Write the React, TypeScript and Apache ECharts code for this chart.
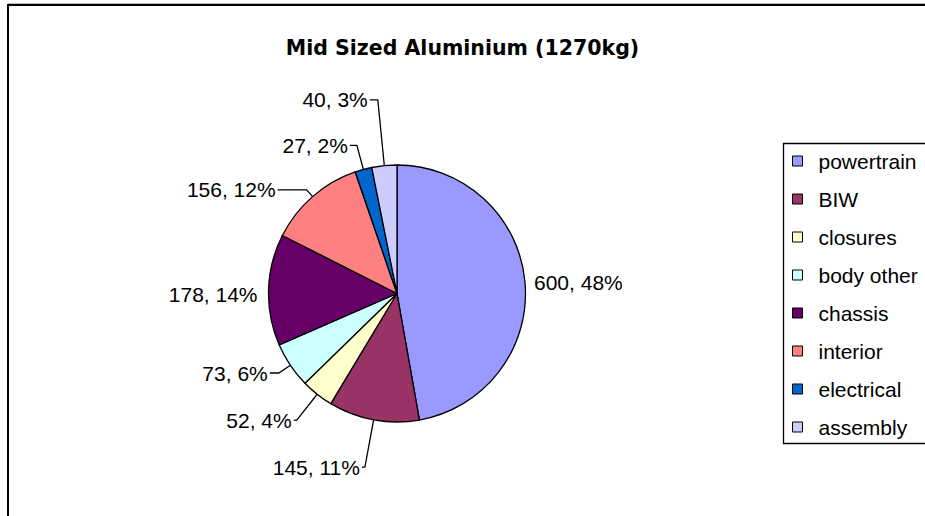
import React, { useEffect, useRef } from "react";
import * as echarts from "echarts";

const titleText = "Mid Sized Aluminium (1270kg)";
const categories = ["powertrain", "BIW", "closures", "body other", "chassis", "interior", "electrical", "assembly"];
const values = [600, 145, 52, 73, 178, 156, 27, 40];
const percentLabels = [48, 11, 4, 6, 14, 12, 2, 3];
const colors = ["#9999FF", "#993366", "#FFFFCC", "#CCFFFF", "#660066", "#FF8080", "#0066CC", "#CCCCFF"];

export default function App() {
  const ref = useRef<HTMLDivElement>(null);
  useEffect(() => {
    if (!ref.current) return;
    const chart = echarts.init(ref.current, undefined, { renderer: "svg" });
    // leader line layout per slice: [length, length2, showLine]
    const leader: [number, number, boolean][] = [
      [0, 7, false],
      [48, 3, true],
      [33, 3, true],
      [14, 9, true],
      [0, 9, false],
      [9, 29, true],
      [25, 7, true],
      [66, 8, true],
    ];
    const titleFont = "'DejaVu Sans', 'Liberation Sans', Arial, sans-serif";
    const font = "'Liberation Sans', Arial, sans-serif";
    chart.setOption({
      animation: false,
      backgroundColor: "#ffffff",
      title: {
        text: titleText,
        left: "center",
        top: 37,
        padding: 0,
        textStyle: { fontFamily: titleFont, fontSize: 20.5, fontWeight: "bold", color: "#000", lineHeight: 22 },
      },
      legend: {
        orient: "vertical",
        left: 792,
        top: 150,
        padding: 0,
        itemGap: 16,
        itemWidth: 10,
        itemHeight: 10,
        icon: "rect",
        selectedMode: false,
        data: categories,
        itemStyle: { borderColor: "#000", borderWidth: 1 },
        textStyle: { fontFamily: font, fontSize: 21, color: "#000", lineHeight: 22, padding: [0, 0, 0, 11] },
      },
      graphic: [
        {
          type: "rect",
          z: 0,
          shape: { x: 8, y: 5, width: 1000, height: 1000 },
          style: { fill: "none", stroke: "#000", lineWidth: 2 },
        },
        {
          type: "line",
          z: 0,
          shape: { x1: 8, y1: 3.5, x2: 1000, y2: 3.5 },
          style: { stroke: "#bbbbbb", lineWidth: 1 },
        },
        {
          type: "rect",
          z: 0,
          shape: { x: 783.5, y: 143.5, width: 300, height: 300 },
          style: { fill: "none", stroke: "#000", lineWidth: 1.3 },
        },
      ],
      series: [
        {
          type: "pie",
          center: [397, 293.5],
          radius: 128.5,
          startAngle: 90,
          clockwise: true,
          avoidLabelOverlap: false,
          emphasis: { disabled: true },
          itemStyle: { borderColor: "#000", borderWidth: 1.3 },
          labelLayout: (p: any) => (p.dataIndex === 4 ? { dy: 5 } : {}),
          label: {
            show: true,
            position: "outside",
            distanceToLabelLine: 2,
            fontFamily: font,
            fontSize: 21,
            color: "#000",
            formatter: (p: any) => `${p.value}, ${percentLabels[p.dataIndex]}%`,
          },
          labelLine: {
            show: true,
            smooth: false,
            lineStyle: { color: "#000", width: 1.3 },
          },
          data: categories.map((name, i) => ({
            name,
            value: values[i],
            itemStyle: { color: colors[i] },
            labelLine: { show: leader[i][2], length: leader[i][0], length2: leader[i][1] },
          })),
        },
      ],
    });
    return () => chart.dispose();
  }, []);
  return <div ref={ref} style={{ position: "absolute", left: 0, top: 0, width: 925, height: 516 }} />;
}
